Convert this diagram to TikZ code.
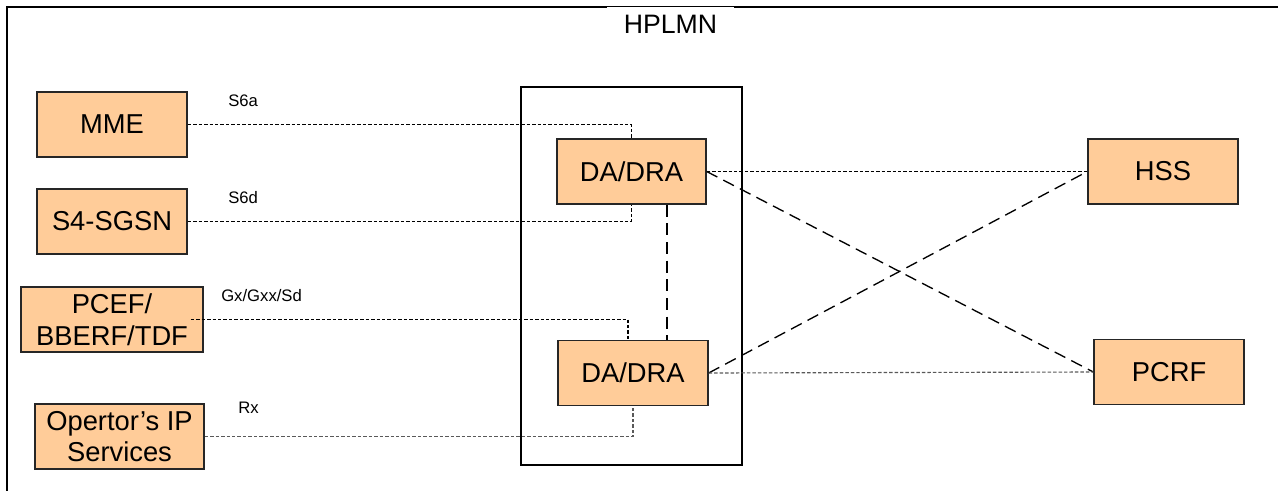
\documentclass[tikz,border=0pt]{standalone}
\usepackage{fontspec}
\setmainfont{Liberation Sans}
\usetikzlibrary{calc}
\definecolor{peach}{RGB}{255,204,153}

\begin{document}
\begin{tikzpicture}[x=0.75pt,y=-0.75pt,
  nf/.style={draw=black!85, line width=1pt, fill=peach, minimum height=48.75pt,
    inner sep=0pt, align=center, font=\fontsize{20.5}{23.8}\selectfont},
  iface/.style={black, line width=0.85pt, dash pattern=on 2.6pt off 1.5pt},
  link/.style={black, line width=1pt, dash pattern=on 9pt off 5pt},
  lbl/.style={anchor=west, inner sep=0pt, font=\fontsize{12.5}{14}\selectfont}]
\useasboundingbox (0,0) rectangle (1278,490);
% HPLMN frame
\draw[line width=0.9pt] (7,7) rectangle (1300,510);
\node[fill=white, inner xsep=12.5pt, inner ysep=6pt, font=\fontsize{20}{24}\selectfont] (hplmn) at (670.5,24) {HPLMN};
\node[draw, line width=1pt, minimum width=165.75pt, minimum height=283.5pt] (core) at (631.5,276) {};
% network elements
\node[nf, minimum width=112.5pt] (mme) at (112,124.5) {MME};
\node[nf, minimum width=112.5pt] (sgsn) at (112,221.5) {S4-SGSN};
\node[nf, minimum width=136.5pt] (pcef) at (112,319.5) {PCEF/\\BBERF/TDF};
\node[nf, minimum width=126.75pt] (ops) at (119.5,436.5) {Opertor’s IP\\Services};
\node[nf, minimum width=111.75pt] (draT) at (631.5,171.5) {DA/DRA};
\node[nf, minimum width=112.5pt] (draB) at (633,373) {DA/DRA};
\node[nf, minimum width=112.5pt] (hss) at (1163,171.5) {HSS};
\node[nf, minimum width=112.5pt] (pcrf) at (1169,372) {PCRF};
\coordinate (dv) at (667,0);
% interfaces
\draw[iface] (mme.east) -| (draT.north);
\draw[iface] (sgsn.east) -| (draT.south);
\draw[iface] ($(pcef.east)+(-13,0)$) -| ($(draB.north)+(-5,0)$);
\draw[iface, black!65] (ops.east) -| (draB.south);
\draw[link] (draT.south -| dv) -- (draB.north -| dv);
\draw[iface] (draT.east) -- (hss.west);
\draw[link] (draT.east) -- (pcrf.west);
\draw[link] (draB.east) -- (hss.west);
\draw[iface, black!65] (draB.east) -- (pcrf.west);
\node[lbl] (s6a) at (228,101) {S6a};
\node[lbl] (s6d) at (228,198) {S6d};
\node[lbl] (gx) at (221,296) {Gx/Gxx/Sd};
\node[lbl] (rx) at (238,408) {Rx};
\end{tikzpicture}
\end{document}
